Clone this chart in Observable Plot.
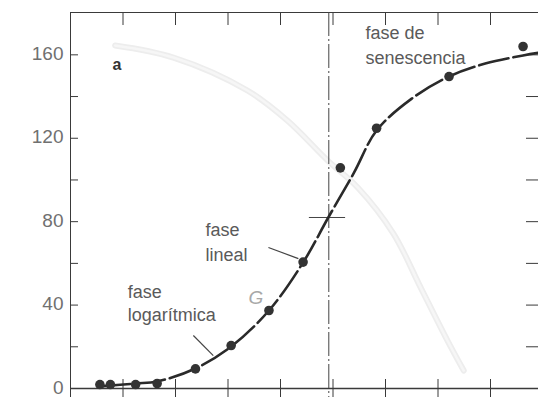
<!DOCTYPE html>
<html><head><meta charset="utf-8">
<script src="https://cdn.jsdelivr.net/npm/d3@7"></script>
<script src="https://cdn.jsdelivr.net/npm/@observablehq/plot@0.6"></script>
<style>body{margin:0;background:#fff;} svg{display:block}</style>
</head><body><div id="chart"></div>
<script>
// ---- data ----
const obsX = [0.56, 0.76, 1.24, 1.65, 2.38, 3.06, 3.78, 4.43, 5.14, 5.83, 7.21, 8.62];
const obsY = [1.9, 1.9, 1.9, 2.4, 9.4, 20.6, 37.4, 60.6, 105.8, 124.8, 149.6, 164];

const curveX = [0.57, 1.24, 1.65, 2.38, 3.06, 3.78, 4.43, 4.91, 5.4, 5.83, 6.5, 7.21, 7.9, 8.62, 8.92];
const curveY = [1.0, 2.4, 3.4, 9.6, 20.1, 37.4, 60.4, 82, 103.5, 123.7, 139, 149.6, 155.8, 159.7, 161];

// faint show-through curve visible behind the figure
const ghostX = [0.85, 1.96, 3.37, 4.13, 4.90, 5.47, 6.15, 6.67, 7.18, 7.49];
const ghostY = [164.5, 158.7, 142.9, 128.5, 109.3, 96.4, 74.3, 48.4, 23.0, 8.6];

const xTicks = [1, 2, 3, 4, 5, 6, 7, 8];
const yLabelTicks = [0, 40, 80, 120, 160];
const yMinorTicks = [0, 20, 40, 60, 80, 100, 120, 140, 160];
const yRightTicks = [20, 40, 60, 80, 100, 120, 140, 160];

const midX = [4.92];
const crossSeg = [{x1: 4.55, x2: 5.24, y: 82}];

const leaders = [
  {x1: 3.77, y1: 67.6, x2: 4.34, y2: 62.3},
  {x1: 2.34, y1: 25.4, x2: 2.72, y2: 15.8}
];

const labelText = ["fase de", "senescencia", "fase", "lineal", "fase", "logarítmica"];
const labelX = [5.62, 5.62, 2.57, 2.57, 1.09, 1.09];
const labelY = [170.2, 158.2, 75.8, 63.8, 46.0, 35.0];

const panelLabel = [{x: 0.80, y: 155, t: "a"}];
const curveLabel = [{x: 3.39, y: 43.5, t: "G"}];

// ---- build ----
const W = 538, H = 397, mL = 70, mT = 12, mB = 9, mR = 0;
const innerW = W - mL - mR, innerH = H - mT - mB;
const obs = obsX.map((x, i) => ({x, y: obsY[i]}));
const curve = curveX.map((x, i) => ({x, y: curveY[i]}));
const ghost = ghostX.map((x, i) => ({x, y: ghostY[i]}));
const labels = labelText.map((t, i) => ({t, x: labelX[i], y: labelY[i]}));
const ink = "#3a3a3a";

const chart = Plot.plot({
  width: W, height: H,
  marginLeft: mL, marginTop: mT, marginBottom: mB, marginRight: mR,
  style: {fontFamily: "'Liberation Sans', Arial, sans-serif", background: "#fff"},
  x: {domain: [0, 8.914], axis: null},
  y: {domain: [0, 180.3], axis: null},
  marks: [
    Plot.line(ghost, {x: "x", y: "y", stroke: "#ededed", strokeWidth: 6, curve: "catmull-rom"}),
    Plot.line(ghost, {x: "x", y: "y", stroke: "#f6f6f6", strokeWidth: 2.5, curve: "catmull-rom"}),
    Plot.frame({anchor: "top", stroke: ink}),
    Plot.ruleX([0], {stroke: ink, insetBottom: -9}),
    Plot.ruleY([0], {stroke: ink, strokeWidth: 1.3}),
    Plot.tickY(yMinorTicks, {y: d => d, insetRight: innerW - 8, stroke: ink}),
    Plot.tickY(yRightTicks, {y: d => d, insetLeft: innerW - 12, stroke: ink}),
    Plot.tickX(xTicks, {x: d => d, insetBottom: innerH - 13, stroke: ink}),
    Plot.tickX(xTicks, {x: d => d, insetTop: innerH - 9, insetBottom: -9, stroke: ink}),
    Plot.axisY(yLabelTicks, {anchor: "left", tickSize: 0, tickPadding: 7, fontSize: 19, fill: "#707070", label: null, dy: -1}),
    Plot.ruleX(midX, {x: d => d, stroke: "#444", strokeDasharray: "24,3,2,3", insetBottom: -9}),
    Plot.ruleY(crossSeg, {y: "y", x1: "x1", x2: "x2", stroke: "#444"}),
    Plot.link(leaders, {x1: "x1", y1: "y1", x2: "x2", y2: "y2", stroke: "#444", strokeWidth: 1.2}),
    Plot.line(curve, {x: "x", y: "y", stroke: "#2a2a2a", strokeWidth: 2.6, strokeDasharray: "30,5", curve: "catmull-rom"}),
    Plot.dot(obs, {x: "x", y: "y", r: 4.8, fill: "#333", stroke: "none"}),
    Plot.text(labels, {x: "x", y: "y", text: "t", textAnchor: "start", fontSize: 18, fill: "#5a5a5a"}),
    Plot.text(panelLabel, {x: "x", y: "y", text: "t", textAnchor: "start", fontSize: 16, fontWeight: "bold", fill: "#333"}),
    Plot.text(curveLabel, {x: "x", y: "y", text: "t", textAnchor: "start", fontSize: 19, fontStyle: "italic", fill: "#a8a8a8"})
  ]
});
document.getElementById("chart").appendChild(chart);
</script>
</body></html>
